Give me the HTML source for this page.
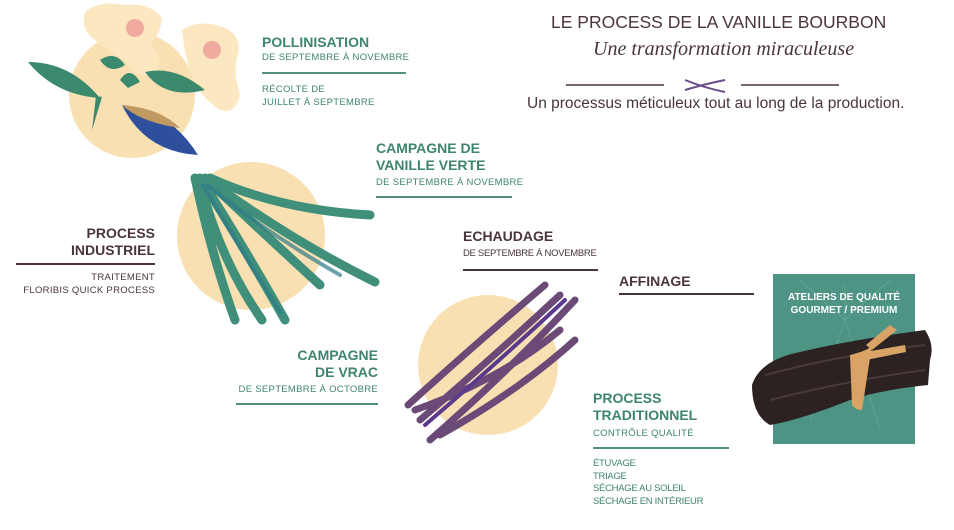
<!DOCTYPE html>
<html><head><meta charset="utf-8"><style>
body{margin:0;width:954px;height:530px;background:#fff;position:relative;overflow:hidden;font-family:"Liberation Sans",sans-serif}
.t{position:absolute;white-space:nowrap}
.h{font-weight:bold;font-size:14px;line-height:17px}
.s{font-size:9.5px;line-height:12.5px;letter-spacing:.3px}
.g{color:#3f8470}.b{color:#4a3538}
.l{position:absolute;height:2px}
.lg{background:#4f8f7c}.lb{background:#4a3538}
.r{text-align:right}
</style></head><body>
<svg width="954" height="530" style="position:absolute;left:0;top:0">
<circle cx="132" cy="95" r="63" fill="#f8e0b2"/>
<circle cx="251" cy="236" r="74" fill="#f8e0b2"/>
<circle cx="488" cy="365" r="70" fill="#f8e0b2"/>
<!-- flower -->
<g fill="#fbe7c0">
<path d="M85 12 Q100 0 125 5 Q150 2 162 18 Q160 35 150 45 Q165 60 155 75 Q135 80 125 60 Q105 50 95 40 Q80 30 85 12Z"/>
<path d="M182 30 Q200 18 225 28 Q242 35 238 55 Q232 70 240 95 Q235 115 220 110 Q205 100 195 85 Q185 60 182 30Z"/>
</g>
<circle cx="135" cy="28" r="9" fill="#f0aaa0"/><circle cx="212" cy="50" r="9" fill="#f0aaa0"/>
<g fill="#3b8a6d">
<path d="M28 62 Q70 62 100 98 Q55 95 28 62Z"/>
<path d="M145 72 Q175 65 205 90 Q165 100 145 72Z"/>
<path d="M100 60 Q115 50 125 65 Q110 75 100 60Z"/>
<path d="M96 96 L92 130 L102 97Z"/>
<path d="M120 80 Q130 65 140 82 L128 88Z"/>
</g>
<path d="M122 105 Q170 110 198 155 Q145 152 122 105Z" fill="#2e4f9c"/>
<path d="M122 105 Q160 108 180 128 Q140 122 122 105Z" fill="#c09a60"/>
<!-- green beans -->
<g stroke="#3f8f7a" stroke-width="9" fill="none" stroke-linecap="round">
<path d="M195 178 Q210 250 235 320"/><path d="M200 178 Q240 240 285 320"/><path d="M205 178 Q260 230 320 285"/>
<path d="M210 178 Q280 210 370 215"/><path d="M208 180 Q290 240 375 282"/><path d="M200 182 Q220 260 262 320"/>
</g>
<g stroke="#2f7a8a" stroke-width="4" fill="none" stroke-linecap="round" opacity=".7">
<path d="M203 185 Q238 245 280 312"/><path d="M208 186 Q270 235 340 275"/>
</g>
<!-- purple beans -->
<g stroke="#6b4a78" stroke-width="7" fill="none" stroke-linecap="round">
<path d="M408 405 Q480 340 545 285"/><path d="M420 420 Q490 360 560 295"/><path d="M430 440 Q510 370 575 300"/>
<path d="M415 410 Q500 380 560 330"/><path d="M440 435 Q520 390 575 340"/>
</g>
<g stroke="#5a3a8c" stroke-width="4" fill="none" stroke-linecap="round">
<path d="M425 425 Q495 365 565 300"/>
</g>
<!-- green box -->
<rect x="773" y="274" width="142" height="170" fill="#4e9485"/>
<g stroke="#6aa898" stroke-width="1" fill="none" opacity=".7">
<path d="M845 320 L800 280 M845 320 L890 280 M845 320 L845 285 M845 320 L810 420 M845 320 L880 430"/>
</g>
<path d="M752 385 Q760 360 800 352 Q850 340 925 330 Q935 345 930 360 L928 385 Q880 390 850 400 Q800 420 770 425 Q752 415 752 385Z" fill="#2c2222"/>
<g stroke="#4a3a36" stroke-width="2" fill="none"><path d="M765 375 Q840 355 925 345"/><path d="M770 400 Q850 380 925 370"/></g>
<path d="M850 355 Q870 350 872 345 L862 410 Q855 410 852 405Z" fill="#d9a267"/>
<path d="M866 345 L890 325 L897 330 L872 350Z" fill="#d9a267"/>
<path d="M865 352 L905 345 L906 352 L866 360Z" fill="#d9a267"/>
<!-- title ornament -->
<line x1="566" y1="85" x2="664" y2="85" stroke="#4a3538" stroke-width="1.5"/>
<line x1="741" y1="85" x2="839" y2="85" stroke="#4a3538" stroke-width="1.5"/>
<path d="M685 80 Q705 88 725 92 M685 90 Q705 84 725 80" stroke="#6a4c85" stroke-width="2" fill="none"/>
</svg>
<div class="t b" style="left:551px;top:12px;font-size:17.5px">LE PROCESS DE LA VANILLE BOURBON</div>
<div class="t b" style="left:593px;top:38px;font-size:20px;font-style:italic;font-family:'Liberation Serif',serif">Une transformation miraculeuse</div>
<div class="t b" style="left:527px;top:95px;font-size:15.5px">Un processus méticuleux tout au long de la production.</div>

<div class="t h g" style="left:262px;top:34px">POLLINISATION</div>
<div class="t s g" style="left:262px;top:52px">DE SEPTEMBRE À NOVEMBRE</div>
<div class="l lg" style="left:262px;top:72px;width:144px"></div>
<div class="t s g" style="left:262px;top:84px">RÉCOLTE DE<br>JUILLET À SEPTEMBRE</div>

<div class="t h g" style="left:376px;top:140px">CAMPAGNE DE<br>VANILLE VERTE</div>
<div class="t s g" style="left:376px;top:177px">DE SEPTEMBRE À NOVEMBRE</div>
<div class="l lg" style="left:376px;top:196px;width:136px"></div>

<div class="t h b r" style="left:16px;width:139px;top:225px">PROCESS<br>INDUSTRIEL</div>
<div class="l lb" style="left:16px;top:263px;width:139px"></div>
<div class="t s b r" style="left:16px;width:139px;top:272px">TRAITEMENT<br>FLORIBIS QUICK PROCESS</div>

<div class="t h b" style="left:463px;top:228px">ECHAUDAGE</div>
<div class="t s b" style="left:463px;top:248px;letter-spacing:-.3px">DE SEPTEMBRE À NOVEMBRE</div>
<div class="l lb" style="left:463px;top:269px;width:135px"></div>

<div class="t h b" style="left:619px;top:273px">AFFINAGE</div>
<div class="l lb" style="left:619px;top:293px;width:135px"></div>

<div class="t" style="left:773px;top:292px;width:142px;text-align:center;color:#fff;font-size:10px;line-height:12.5px;font-weight:bold">ATELIERS DE QUALITÉ<br>GOURMET / PREMIUM</div>

<div class="t h g r" style="left:236px;width:142px;top:347px">CAMPAGNE<br>DE VRAC</div>
<div class="t s g r" style="left:236px;width:142px;top:384px">DE SEPTEMBRE À OCTOBRE</div>
<div class="l lg" style="left:236px;top:403px;width:142px"></div>

<div class="t h g" style="left:593px;top:390px">PROCESS<br>TRADITIONNEL</div>
<div class="t s g" style="left:593px;top:428px">CONTRÔLE QUALITÉ</div>
<div class="l lg" style="left:593px;top:447px;width:136px"></div>
<div class="t s g" style="left:593px;top:458px;letter-spacing:-.3px">ÉTUVAGE<br>TRIAGE<br>SÉCHAGE AU SOLEIL<br>SÉCHAGE EN INTÉRIEUR</div>
</body></html>
